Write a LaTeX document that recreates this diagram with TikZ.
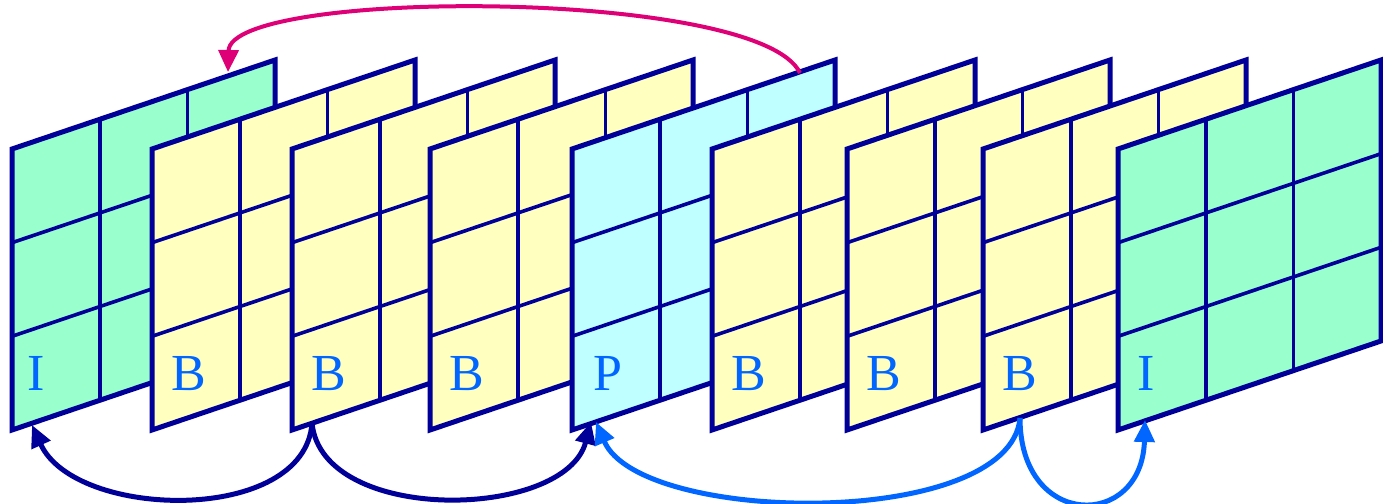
\documentclass[tikz,border=0pt]{standalone}
\usepackage{fontspec}
\setmainfont{Liberation Serif}
\usetikzlibrary{arrows.meta}
\definecolor{navyc}{HTML}{000099}
\definecolor{igreen}{HTML}{99FFCC}
\definecolor{byellow}{HTML}{FFFFC0}
\definecolor{pcyan}{HTML}{C0FFFF}
\definecolor{lblue}{HTML}{0066FF}
\definecolor{magc}{HTML}{DD0077}
\tikzset{
  border/.style={draw=navyc, line width=5pt, line join=miter},
  gridl/.style={draw=navyc, line width=3.6pt},
  lbl/.style={text=lblue, font=\fontsize{52}{52}\selectfont, anchor=base west, inner sep=0pt},
  refarrow/.style={line width=5pt, -{Triangle[length=22pt,width=20pt]}},
  navyarrow/.style={refarrow, draw=navyc},
  bluearrow/.style={refarrow, draw=lblue},
  magarrow/.style={line width=4pt, draw=magc, -{Triangle[length=22pt,width=20pt]}}
}
\begin{document}
\begin{tikzpicture}[x=1pt,y=-1pt]
\useasboundingbox (0,0) rectangle (1383,503);
\clip (0,0) rectangle (1383,503);
\foreach \i/\x/\c/\l/\o in {1/12/igreen/I/15, 2/152/byellow/B/19, 3/292/byellow/B/19, 4/430/byellow/B/19, 5/572/pcyan/P/21, 6/712/byellow/B/19, 7/847/byellow/B/19, 8/983/byellow/B/19, 9/1118/igreen/I/19}{
  \fill[\c] (\x,149) -- (\x+263,60) -- (\x+263,341) -- (\x,430) -- cycle;
  \draw[gridl] (\x+87.7,119.4) -- (\x+87.7,400.4);
  \draw[gridl] (\x+175.3,89.7) -- (\x+175.3,370.7);
  \draw[gridl] (\x,242.7) -- (\x+263,153.7);
  \draw[gridl] (\x,336.3) -- (\x+263,247.3);
  \draw[border] (\x,149) -- (\x+263,60) -- (\x+263,341) -- (\x,430) -- cycle;
  \node[lbl] (lab\i) at (\x+\o,390) {\l};
}
\coordinate (f1b) at (32,425);
\coordinate (f1t) at (228,72);
\coordinate (f3b) at (312,423);
\coordinate (f5b) at (591,422);
\coordinate (f5bb) at (596,422);
\coordinate (f5t) at (800,73);
\coordinate (f8b) at (1020,418);
\coordinate (f9b) at (1145,420);
\draw[navyarrow] (f3b) .. controls (305,525) and (75,520) .. (f1b);
\draw[navyarrow] (f3b) .. controls (322,525) and (565,520) .. (f5b);
\draw[bluearrow] (f8b) .. controls (1010,530) and (640,525) .. (f5bb);
\draw[bluearrow] (f8b) .. controls (1020,530) and (1142,530) .. (f9b);
\draw[magarrow] (f5t) .. controls (760,-12) and (230,-12) .. (f1t);
\end{tikzpicture}
\end{document}
